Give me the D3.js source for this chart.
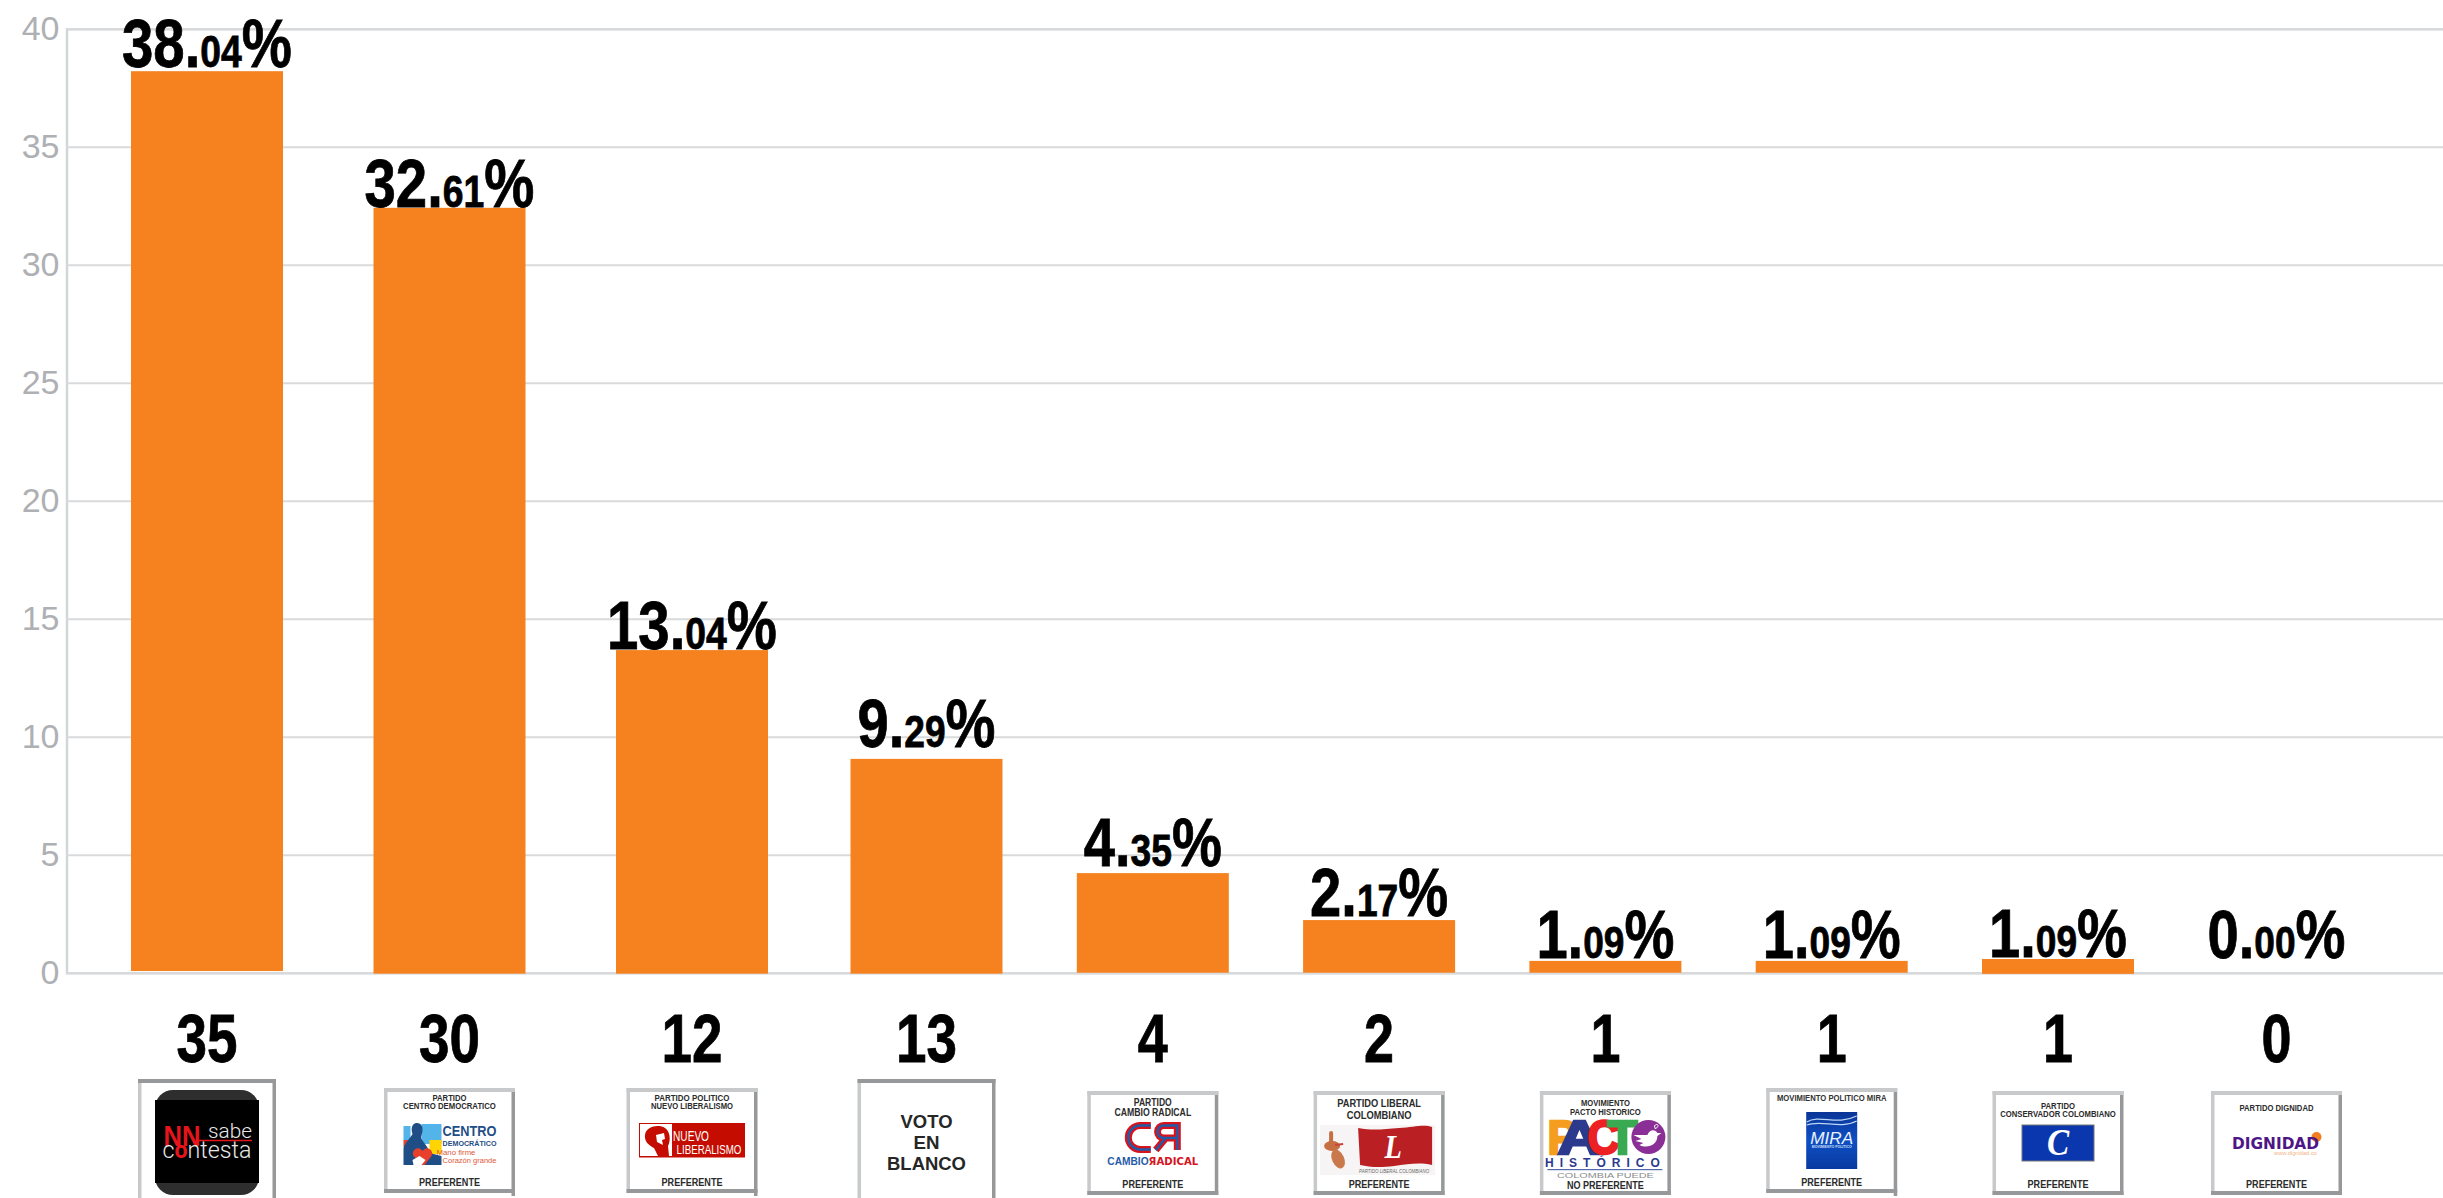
<!DOCTYPE html>
<html>
<head>
<meta charset="utf-8">
<script src="https://cdn.jsdelivr.net/npm/d3@7"></script>
<style>
  html, body { margin: 0; padding: 0; background: #fff; overflow: hidden; }
  svg { display: block; }
</style>
</head>
<body>
<script>
const parties = ["NN sabe contesta", "Centro Democratico", "Nuevo Liberalismo", "Voto en blanco", "Cambio Radical",
  "Partido Liberal", "Pacto Historico", "MIRA", "Partido Conservador", "Dignidad"];
const votes = [35, 30, 12, 13, 4, 2, 1, 1, 1, 0];
const percentLabels = ["38.04", "32.61", "13.04", "9.29", "4.35", "2.17", "1.09", "1.09", "1.09", "0.00"];
// bar heights as drawn in the picture, they differ a little from the printed percentages
const barValues = [38.2, 32.41, 13.67, 9.06, 4.22, 2.23, 0.5, 0.5, 0.58, 0];
const barFoot = [0.07, -0.04, -0.04, -0.04, 0, 0, 0, 0, -0.05, 0];
const yTicks = [0, 5, 10, 15, 20, 25, 30, 35, 40];

const w = 2443;
const h = 1198;
const barWidth = 152;
const narrow = "'Liberation Sans Narrow', 'Liberation Sans', sans-serif";
const sans = "'Liberation Sans', Arial, sans-serif";

const svg = d3.select("body").append("svg").attr("width", w).attr("height", h);

// slots are not evenly spaced in the original, so the index scale is piecewise
const xScale = d3.scaleLinear().domain([0, 2, 3, 8, 9]).range([207, 692, 926.5, 2058, 2276.5]);
const yScale = d3.scaleLinear().domain([0, 40]).range([972.7, 28.7]);

const yAxis = d3.axisLeft(yScale).tickValues(yTicks).tickSize(-(w - 66.5)).tickPadding(7);
const axisG = svg.append("g").attr("transform", "translate(66.5,0)").call(yAxis);
axisG.select(".domain").attr("stroke", "#d4d5d7").attr("stroke-width", 2.5);
axisG.selectAll(".tick line").attr("stroke", "#d9dadc").attr("stroke-width", 2);
axisG.selectAll(".tick text")
  .attr("fill", "#aeb0b4")
  .style("font-family", sans)
  .style("font-size", "34px");

svg.selectAll("rect.bar")
  .data(parties)
  .enter()
  .append("rect")
    .attr("class", "bar")
    .attr("x", (d, i) => xScale(i) - barWidth / 2)
    .attr("y", (d, i) => yScale(barValues[i]))
    .attr("width", barWidth)
    .attr("height", (d, i) => yScale(barFoot[i]) - yScale(barValues[i]))
    .attr("fill", "#f6821f");

// squeezes or stretches a text to the width it has in the picture
function squeeze(sel, cx, width) {
  const real = sel.node().getComputedTextLength();
  sel.attr("transform", `translate(${cx},0) scale(${width / real},1) translate(${-cx},0)`);
  return sel;
}

function label(g, str, cx, y, size, width, fill, weight, family) {
  const t = g.append("text")
    .attr("x", cx)
    .attr("y", y)
    .attr("text-anchor", "middle")
    .attr("fill", fill || "#2b2b2b")
    .attr("font-family", family || narrow)
    .attr("font-size", size)
    .attr("font-weight", weight || "bold")
    .text(str);
  return squeeze(t, cx, width);
}

// space between a bar top and the baseline of its percentage
const labelLift = [4, 1, 1, 12, 7, 4, 3, 3, 2, 15];
percentLabels.forEach((p, i) => {
  const parts = p.split(".");
  const cx = xScale(i);
  const t = svg.append("text")
    .attr("x", cx)
    .attr("y", yScale(barValues[i]) - labelLift[i])
    .attr("text-anchor", "middle")
    .attr("fill", "#000")
    .attr("stroke", "#000")
    .attr("stroke-width", 0.8)
    .attr("font-family", narrow)
    .attr("font-weight", "bold")
    .attr("font-size", 68);
  t.append("tspan").text(parts[0] + ".");
  t.append("tspan").attr("font-size", 45).text(parts[1]);
  t.append("tspan").text("%");
  squeeze(t, cx, parts[0].length > 1 ? 170 : 138);
});

votes.forEach((v, i) => {
  label(svg, String(v), xScale(i), 1062, 68, String(v).length > 1 ? 61 : 30, "#000")
    .attr("stroke", "#000")
    .attr("stroke-width", 0.8);
});

// ballot cards under the chart
const cardTop = [1079, 1088, 1088, 1079, 1091, 1091, 1091, 1088, 1091, 1091];
const cardWidth = [138, 131, 131, 138, 131, 131, 131, 131, 131, 131];
const cardHeight = [125, 105, 105, 125, 104, 104, 104, 105, 104, 104];
const cardTail = [0, 3, 3, 0, 0, 0, 0, 3, 0, 0];
const light = "#c8c9cb";
const dark = "#97989a";

function drawCard(i) {
  const g = svg.append("g").attr("transform", `translate(${xScale(i)},${cardTop[i]})`);
  const cw = cardWidth[i];
  const ch = cardHeight[i];
  const topColor = ch > 110 ? dark : light;
  g.append("rect").attr("x", -cw / 2).attr("y", 0).attr("width", cw).attr("height", ch).attr("fill", "#fff");
  g.append("rect").attr("x", -cw / 2).attr("y", 0).attr("width", 3.5).attr("height", ch).attr("fill", light);
  g.append("rect").attr("x", -cw / 2).attr("y", ch - 4).attr("width", cw).attr("height", 4).attr("fill", dark);
  g.append("rect").attr("x", cw / 2 - 3.5).attr("y", 0).attr("width", 3.5).attr("height", ch + cardTail[i]).attr("fill", dark);
  g.append("rect").attr("x", -cw / 2).attr("y", 0).attr("width", cw).attr("height", 4).attr("fill", topColor);
  return g;
}

function preferente(g, y) {
  label(g, "PREFERENTE", 0, y, 11.5, 61);
}

// 0 NN sabe contesta
{
  const g = drawCard(0);
  g.append("rect").attr("x", -52).attr("y", 11).attr("width", 104).attr("height", 105).attr("rx", 18).attr("fill", "#2e2e2e");
  g.append("rect").attr("x", -52).attr("y", 21).attr("width", 104).attr("height", 83).attr("fill", "#000");
  label(g, "NN", -25, 67, 30, 37, "#e8141c");
  label(g, "sabe", 23, 59, 21, 44, "#e8e8e8", 300, "Roboto");
  g.append("line").attr("x1", -8).attr("x2", 45).attr("y1", 61.5).attr("y2", 61.5).attr("stroke", "#e8141c").attr("stroke-width", 1.5);
  const t = g.append("text").attr("x", 0).attr("y", 79).attr("text-anchor", "middle")
    .attr("font-family", "Roboto").attr("font-weight", 300).attr("font-size", 24).attr("fill", "#e8e8e8");
  t.append("tspan").text("c");
  t.append("tspan").attr("fill", "#e8141c").attr("font-weight", "bold").text("o");
  t.append("tspan").text("ntesta");
  squeeze(t, 0, 89);
}

// 1 Centro Democratico
{
  const g = drawCard(1);
  label(g, "PARTIDO", 0, 13, 9.5, 34);
  label(g, "CENTRO DEMOCRATICO", 0, 21, 9.5, 93);
  g.append("rect").attr("x", -28).attr("y", 36).attr("width", 20).attr("height", 20).attr("fill", "#52b4e8");
  g.append("rect").attr("x", -46).attr("y", 38).attr("width", 7).attr("height", 14).attr("fill", "#52b4e8");
  g.append("rect").attr("x", -20).attr("y", 52).attr("width", 12).attr("height", 14).attr("fill", "#ffd400");
  g.append("rect").attr("x", -46).attr("y", 52).attr("width", 7).attr("height", 7).attr("fill", "#e5432d");
  g.append("path").attr("fill", "#1f4e86")
    .attr("d", "M-33,35 a5.5,6 0 0 1 6,7 c0,4 -2,6 -1,9 c3,5 7,8 8,14 L-8,68 L-8,77 L-46,77 L-46,60 C-44,54 -39,50 -37,46 C-39,40 -37,35 -33,35 Z");
  g.append("path").attr("fill", "#e8402b").attr("d", "M-27,77 L-36,68 a5,5 0 0 1 9,-5 a5,5 0 0 1 9,5 L-25,77 Z");
  g.append("path").attr("fill", "#fff").attr("d", "M-37,72 L-30,68 L-24,72 L-28,77 L-36,77 Z");
  label(g, "CENTRO", 20, 48, 15, 54, "#1f4e86", "bold", sans);
  label(g, "DEMOCRÁTICO", 20, 58, 7, 54, "#1f4e86", "bold", sans);
  label(g, "Mano firme", 6.5, 67, 7.5, 39, "#e0583a", "normal", sans);
  label(g, "Corazón grande", 20, 75, 7.5, 54, "#e0583a", "normal", sans);
  preferente(g, 98);
}

// 2 Nuevo Liberalismo
{
  const g = drawCard(2);
  label(g, "PARTIDO  POLITICO", 0, 13, 9.5, 75);
  label(g, "NUEVO LIBERALISMO", 0, 21, 9.5, 82);
  g.append("rect").attr("x", -53).attr("y", 35).attr("width", 106).attr("height", 34.5).attr("fill", "#c40d00");
  g.append("rect").attr("x", -52).attr("y", 36).attr("width", 32).attr("height", 32).attr("fill", "#fff");
  g.append("path").attr("fill", "#c40d00")
    .attr("d", "M-47,47 C-46,38 -33,36 -27,40 C-22,43 -21,52 -24,58 L-23,68 L-34,68 L-38,60 C-42,58 -48,54 -47,47 Z");
  g.append("path").attr("fill", "#fff").attr("d", "M-36,47 l8,-2 l1,6 l-3,1 l1,5 l-6,-3 Z");
  label(g, "NUEVO", -1, 53, 14, 36, "#fff", "normal");
  label(g, "LIBERALISMO", 17, 66, 13, 65, "#fff", "normal");
  preferente(g, 98);
}

// 3 Voto en blanco
{
  const g = drawCard(3);
  label(g, "VOTO", 0, 49, 19, 52, "#262626", "bold", sans);
  label(g, "EN", 0, 70, 19, 26, "#262626", "bold", sans);
  label(g, "BLANCO", 0, 91, 19, 79, "#262626", "bold", sans);
}

// 4 Cambio Radical
{
  const g = drawCard(4);
  label(g, "PARTIDO", 0, 15, 10.5, 38);
  label(g, "CAMBIO RADICAL", 0, 25, 10.5, 77);
  const c = "M-2,34.5 L-12.5,34.5 A12,12 0 0 0 -12.5,58.5 L-2,58.5";
  const r = "M24.5,59 L24.5,34.5 L11,34.5 A6.25,6.25 0 0 0 11,47 L24.5,47 M13,47 L3,59";
  [c, r].forEach(d => {
    g.append("path").attr("d", d).attr("fill", "none").attr("stroke", "#d7141e").attr("stroke-width", 7);
    g.append("path").attr("d", d).attr("fill", "none").attr("stroke", "#1f5ba8").attr("stroke-width", 2.5);
  });
  const t = g.append("text").attr("x", 0).attr("y", 74).attr("text-anchor", "middle")
    .attr("font-family", sans).attr("font-weight", "bold").attr("font-size", 10.5);
  t.append("tspan").attr("fill", "#1f5ba8").text("CAMBIO");
  t.append("tspan").attr("fill", "#d7141e").attr("font-family", "DejaVu Sans").text("ЯADICAL");
  squeeze(t, 0, 91);
  preferente(g, 97);
}

// 5 Partido Liberal
{
  const g = drawCard(5);
  label(g, "PARTIDO LIBERAL", 0, 16, 11.5, 84);
  label(g, "COLOMBIANO", 0, 28.5, 11.5, 65);
  g.append("rect").attr("x", -59).attr("y", 34).attr("width", 115).attr("height", 50).attr("fill", "#f6f4f4");
  g.append("path").attr("fill", "#b91f23")
    .attr("d", "M-21,37 C-5,40 5,38 20,37 S45,33 53,36 L53,74 C40,71 30,73 15,75 S-10,76 -19,74 Z");
  label(g, "L", 14, 67, 33, 19, "#fff", "bold", "'Liberation Serif', serif").attr("font-style", "italic");
  label(g, "PARTIDO LIBERAL COLOMBIANO", 15, 82, 4.5, 70, "#6b6b6b", "normal", sans).attr("font-style", "italic");
  g.append("rect").attr("x", -50).attr("y", 40).attr("width", 4).attr("height", 14).attr("rx", 2).attr("fill", "#c66f43");
  g.append("ellipse").attr("cx", -47).attr("cy", 55).attr("rx", 8).attr("ry", 5).attr("fill", "#c66f43");
  g.append("path").attr("d", "M-44,54 L-36,53").attr("stroke", "#c8433a").attr("stroke-width", 2);
  g.append("ellipse").attr("cx", -41).attr("cy", 68).attr("rx", 6).attr("ry", 10).attr("fill", "#c9794c").attr("transform", "rotate(-25 -41 68)");
  preferente(g, 97);
}

// 6 Pacto Historico
{
  const g = drawCard(6);
  label(g, "MOVIMIENTO", 0, 15, 9.5, 49);
  label(g, "PACTO HISTORICO", 0, 24, 9.5, 71);
  [["P", -43, 30, "#f59d1e"], ["A", -26, 44, "#2b3a8c"], ["C", -2, 32, "#ed2024"], ["T", 17, 30, "#3aaa52"]].forEach(l => {
    label(g, l[0], l[1], 63, 48, l[2], l[3], "bold", sans).attr("stroke", l[3]).attr("stroke-width", 2.5);
  });
  g.append("circle").attr("cx", 43).attr("cy", 46).attr("r", 17).attr("fill", "#8a2f96");
  g.append("path").attr("fill", "#fff").attr("d", "M28,44 L42,44 C44,38 50,38 52,42 L56,42 L52,45 C52,54 42,58 34,54 L38,52 L30,50 L36,48 Z");
  g.append("path").attr("fill", "none").attr("stroke", "#fff").attr("stroke-width", 1).attr("d", "M49,35 c2,-3 5,-1 3,1 l-2,2 Z");
  g.append("text").attr("x", 0).attr("y", 76).attr("text-anchor", "middle").attr("font-family", sans)
    .attr("font-weight", "bold").attr("font-size", 12).attr("letter-spacing", 6).attr("fill", "#2b3a8c").text("HISTÓRICO");
  g.append("rect").attr("x", -58).attr("y", 78).attr("width", 115).attr("height", 1.2).attr("fill", "#5566aa");
  label(g, "COLOMBIA PUEDE", 0, 87, 6.5, 97, "#8c8c8c", "normal", sans);
  label(g, "NO PREFERENTE", 0, 98, 11.5, 77);
}

// 7 MIRA
{
  const g = drawCard(7);
  const grad = svg.append("defs").append("linearGradient").attr("id", "miraBlue").attr("x1", 0).attr("y1", 0).attr("x2", 0).attr("y2", 1);
  grad.append("stop").attr("offset", 0).attr("stop-color", "#0a3596");
  grad.append("stop").attr("offset", 0.5).attr("stop-color", "#0f4fc4");
  grad.append("stop").attr("offset", 1).attr("stop-color", "#083aa0");
  label(g, "MOVIMIENTO POLITICO MIRA", 0, 13, 9.5, 110, "#333");
  g.append("rect").attr("x", -25.5).attr("y", 24).attr("width", 51).attr("height", 57).attr("fill", "url(#miraBlue)");
  g.append("path").attr("fill", "none").attr("stroke", "#bcd6f5").attr("stroke-width", 1.2)
    .attr("d", "M-25,34 C-12,26 5,38 25,28 M-25,37 C-10,31 8,42 25,33");
  label(g, "MIRA", 0, 56, 16, 43, "#eaf2fc", "normal", sans).attr("font-style", "italic");
  label(g, "MOVIMIENTO POLITICO", 0, 60, 3, 40, "#cfe0f7", "bold", sans);
  preferente(g, 98);
}

// 8 Partido Conservador
{
  const g = drawCard(8);
  label(g, "PARTIDO", 0, 18, 9.5, 34);
  label(g, "CONSERVADOR COLOMBIANO", 0, 26, 9.5, 116);
  g.append("rect").attr("x", -36).attr("y", 34).attr("width", 72).attr("height", 36).attr("fill", "#0a37ad").attr("stroke", "#777").attr("stroke-width", 1);
  label(g, "C", 0, 64, 38, 24, "#fff", "bold", "'Liberation Serif', serif").attr("font-style", "italic");
  preferente(g, 97);
}

// 9 Dignidad
{
  const g = drawCard(9);
  label(g, "PARTIDO DIGNIDAD", 0, 20, 9.5, 74);
  g.append("circle").attr("cx", 40).attr("cy", 46).attr("r", 5).attr("fill", "#f57c1f");
  label(g, "DIGNIDAD", -1, 58, 16, 87, "#4e1586", "bold", "'DejaVu Sans', sans-serif");
  label(g, "www.dignidad.co", 19, 64, 5, 43, "#f3b488", "normal", sans);
  preferente(g, 97);
}
</script>
</body>
</html>
